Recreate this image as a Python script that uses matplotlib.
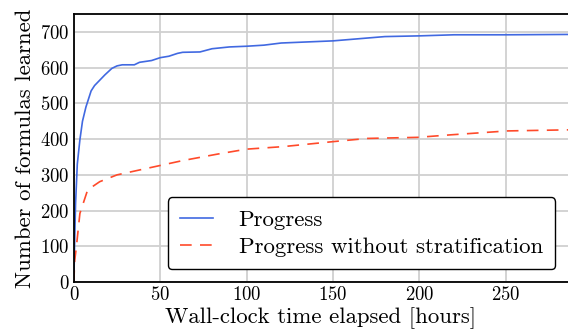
import matplotlib
matplotlib.use("Agg")
import matplotlib.pyplot as plt

plt.rcParams['font.family'] = 'serif'
plt.rcParams['font.serif'] = ['cmr10']
plt.rcParams['mathtext.fontset'] = 'cm'
plt.rcParams['axes.unicode_minus'] = False
plt.rcParams['axes.formatter.use_mathtext'] = True

# Progress (with stratification)
hours_a = [0, 0.5, 1, 2, 3.5, 5, 7, 10, 12, 15, 18, 22, 25, 28, 35, 38, 45, 50, 55, 60, 63,
           73, 80, 90, 100, 110, 120, 130, 150, 170, 180, 200, 220, 250, 286]
progress = [0, 120, 220, 330, 398, 450, 490, 535, 550, 565, 580, 598, 605, 608, 608, 615, 620,
            628, 632, 640, 643, 644, 653, 658, 660, 663, 669, 671, 675, 683, 687, 689, 692, 692, 693]

# Progress without stratification
hours_b = [0, 0.5, 1.5, 3.5, 8, 15, 25, 44, 63, 83, 100, 121, 150, 170, 199, 218, 251, 286]
no_strat = [0, 60, 100, 192, 258, 281, 300, 320, 340, 358, 372, 379, 393, 402, 405, 412, 423, 426]

fig = plt.figure(figsize=(5.68, 3.35), dpi=100)
ax = fig.add_axes([0.130, 0.158, 0.870, 0.800])

ax.plot(hours_a, progress, color='#4169e1', lw=1.2, label='Progress')
ax.plot(hours_b, no_strat, color='#ff4a2a', lw=1.2, ls=(0, (7, 5)),
        label='Progress without stratification')

ax.set_xlim(0, 286)
ax.set_ylim(0, 750)
ax.set_xticks([0, 50, 100, 150, 200, 250])
ax.set_yticks([0, 100, 200, 300, 400, 500, 600, 700])
ax.grid(True, color='#d0d0d0', lw=1.3)
ax.set_axisbelow(True)
ax.tick_params(length=0, labelsize=13.5, pad=3)
ax.spines['right'].set_visible(False)
for s in ['left', 'top', 'bottom']:
    ax.spines[s].set_linewidth(1.3)

ax.set_xlabel('Wall-clock time elapsed [hours]', fontsize=16.4, labelpad=2)
ax.set_ylabel('Number of formulas learned', fontsize=16.4, labelpad=4)

leg = ax.legend(loc='lower right', fontsize=16.5, frameon=True, framealpha=1,
                edgecolor='black', fancybox=True, borderaxespad=0.55,
                handlelength=1.45, handletextpad=1.1, borderpad=0.55,
                labelspacing=0.3)
leg.get_frame().set_linewidth(1.0)

fig.savefig('out.png', dpi=100)
